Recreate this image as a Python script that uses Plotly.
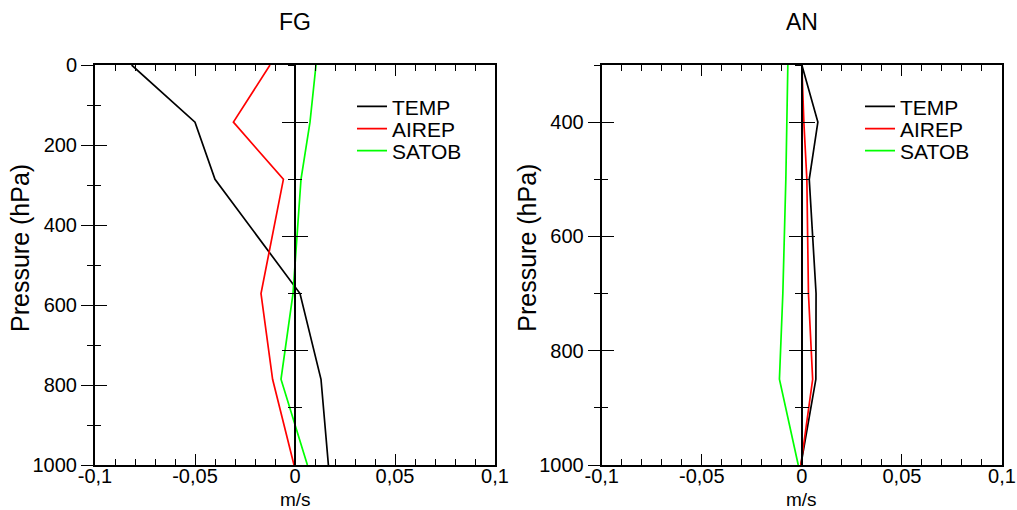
import plotly.graph_objects as go

# ---- data ----
levels = [300, 400, 500, 700, 850, 1000]          # hPa
fg_temp = [-0.0817, -0.050, -0.040, 0.0025, 0.013, 0.0167]
fg_airep = [-0.0125, -0.0308, -0.0058, -0.017, -0.0112, -0.0005]
fg_satob = [0.0105, 0.0075, 0.003, -0.001, -0.007, 0.0062]
an_temp = [0.0, 0.008, 0.0037, 0.0071, 0.0070, -0.0005]
an_airep = [0.0, 0.001, 0.0025, 0.0033, 0.0054, -0.0005]
an_satob = [-0.0070, -0.0075, -0.0080, -0.0095, -0.0112, -0.0018]
series_names = ["TEMP", "AIREP", "SATOB"]
series_colors = ["#000000", "#ff0000", "#00ff00"]
x_tickvals = [-0.1, -0.05, 0, 0.05, 0.1]
x_ticktext = ["-0,1", "-0,05", "0", "0,05", "0,1"]
panel_titles = ["FG", "AN"]

FONT = "Liberation Sans, Arial, sans-serif"
W, H = 1017, 510
L_DOM = [95 / W, 495 / W]
R_DOM = [601.7 / W, 1002 / W]


def py(px):
    """pixel row -> paper y (plot area spans rows 65..465)"""
    return 1 - (px - 65) / 400


legend_rows = [106.7, 129, 151]
legend_ids_left = ["legend", "legend3", "legend5"]
legend_ids_right = ["legend2", "legend4", "legend6"]

fig = go.Figure()

for name, col, vals, lg in zip(series_names, series_colors, [fg_temp, fg_airep, fg_satob], legend_ids_left):
    fig.add_trace(go.Scatter(x=vals, y=levels, mode="lines", name=name,
                             line=dict(color=col, width=1.7),
                             xaxis="x", yaxis="y5", legend=lg))
for name, col, vals, lg in zip(series_names, series_colors, [an_temp, an_airep, an_satob], legend_ids_right):
    fig.add_trace(go.Scatter(x=vals, y=levels, mode="lines", name=name,
                             line=dict(color=col, width=1.7),
                             xaxis="x2", yaxis="y2", legend=lg))

# empty helper traces so every axis is registered and drawn
for xa, ya in [("x", "y"), ("x", "y3"), ("x", "y6"), ("x2", "y4"), ("x2", "y7"), ("x2", "y8")]:
    fig.add_trace(go.Scatter(x=[None], y=[None], xaxis=xa, yaxis=ya, showlegend=False,
                             hoverinfo="skip", mode="lines"))

tickfont = dict(family=FONT, size=20, color="#000")


def xax(domain, anchor):
    return dict(domain=domain, anchor=anchor, range=[-0.1, 0.1],
                tickmode="array", tickvals=x_tickvals, ticktext=x_ticktext,
                ticks="inside", ticklen=11, tickwidth=1.3, tickcolor="#000",
                showline=True, linecolor="#000", linewidth=2, mirror="ticks",
                showgrid=False, zeroline=False, tickfont=tickfont,
                ticklabelstandoff=-8,
                minor=dict(ticks="inside", ticklen=6, tickwidth=1.3, tickcolor="#000",
                           dtick=0.01, tick0=0, showgrid=False))


def yax(rng, anchor, ticks, showlabels, line, overlaying=None, position=None, mirror=False, lw=2):
    d = dict(range=rng, tickmode="linear", tick0=0, dtick=200,
             ticks=ticks, ticklen=12, tickwidth=1.3, tickcolor="#000",
             showticklabels=showlabels, tickfont=tickfont,
             showline=line, linecolor="#000", linewidth=lw, mirror=mirror,
             showgrid=False, zeroline=False,
             minor=dict(ticks=ticks, ticklen=6, tickwidth=1.3, tickcolor="#000",
                        dtick=100, tick0=0, showgrid=False))
    if overlaying:
        d["overlaying"] = overlaying
    if position is not None:
        d["anchor"] = "free"
        d["position"] = position
    else:
        d["anchor"] = anchor
        d["domain"] = [0, 1]
    return d


x0_left = (95 + 200) / W
x0_right = (601.7 + 200.15) / W

legfont = dict(family=FONT, size=21, color="#000")
legends = {}
for ids, lx in [(legend_ids_left, 352 / W), (legend_ids_right, 860 / W)]:
    for lid, row in zip(ids, legend_rows):
        legends[lid] = dict(x=lx, y=py(row), xanchor="left", yanchor="middle",
                            bgcolor="rgba(0,0,0,0)", borderwidth=0,
                            font=legfont, itemwidth=30)

fig.update_layout(
    width=W, height=H,
    margin=dict(l=0, r=0, t=65, b=45, autoexpand=False),
    plot_bgcolor="white", paper_bgcolor="white",
    font=dict(family=FONT, color="#000"),
    xaxis=xax(L_DOM, "y"),
    xaxis2=xax(R_DOM, "y2"),
    yaxis=yax([1000, 0], "x", "outside", True, True, mirror=True),
    yaxis3=yax([1000, 0], "x", "inside", False, False, overlaying="y"),
    yaxis5=yax([1000, 300], None, "outside", False, True, overlaying="y", position=x0_left, lw=1.5),
    yaxis6=yax([1000, 300], None, "inside", False, False, overlaying="y", position=x0_left, lw=1.5),
    yaxis2=yax([1000, 300], "x2", "outside", True, True, mirror=True),
    yaxis4=yax([1000, 300], "x2", "inside", False, False, overlaying="y2"),
    yaxis7=yax([1000, 300], None, "outside", False, True, overlaying="y2", position=x0_right, lw=1.5),
    yaxis8=yax([1000, 300], None, "inside", False, False, overlaying="y2", position=x0_right, lw=1.5),
    showlegend=True,
    **legends,
)

for title, dom in zip(panel_titles, [L_DOM, R_DOM]):
    cx = (dom[0] + dom[1]) / 2
    fig.add_annotation(text=title, x=cx, y=py(22), xref="paper", yref="paper",
                       xanchor="center", yanchor="middle",
                       showarrow=False, font=dict(family=FONT, size=23, color="#000"))
    fig.add_annotation(text="m/s", x=cx, y=py(499), xref="paper", yref="paper",
                       xanchor="center", yanchor="middle",
                       showarrow=False, font=dict(family=FONT, size=19, color="#000"))
    fig.add_annotation(text="Pressure (hPa)", x=dom[0] - 75 / W, y=py(248), xref="paper", yref="paper",
                       xanchor="center", yanchor="middle",
                       textangle=-90, showarrow=False,
                       font=dict(family=FONT, size=25, color="#000"))

fig.write_html("out.html", config={"displayModeBar": False},
               post_script="document.body.style.margin='0';document.body.style.overflow='hidden';")
